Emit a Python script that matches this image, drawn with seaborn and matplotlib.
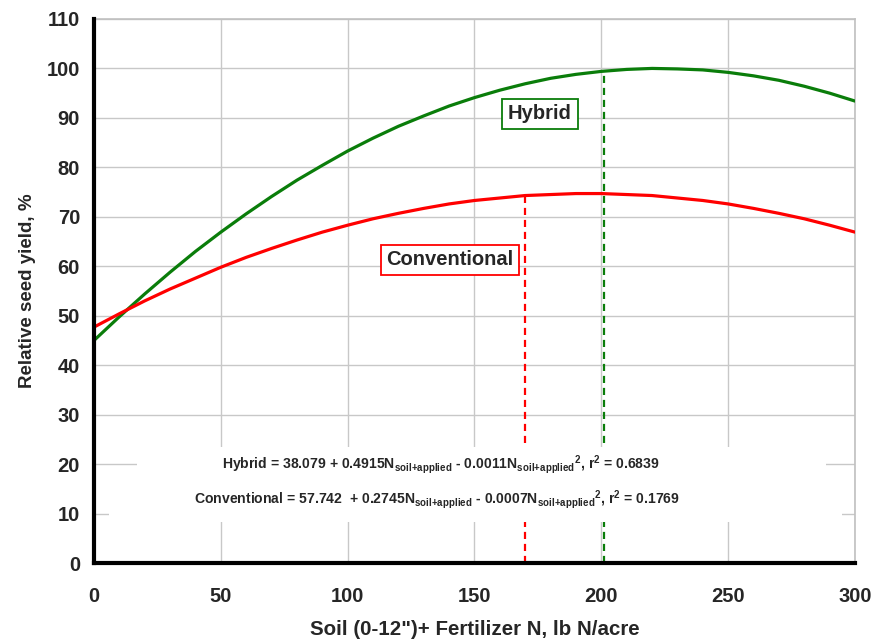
import numpy as np
import pandas as pd
import matplotlib
matplotlib.use("Agg")
import matplotlib.pyplot as plt
from matplotlib.patches import Rectangle
import seaborn as sns

# ---- data ----
n_rate = [0, 10, 20, 30, 40, 50, 60, 70, 80, 90, 100, 110, 120, 130, 140, 150,
          160, 170, 180, 190, 200, 210, 220, 230, 240, 250, 260, 270, 280, 290, 300]
hybrid_yield = [45.0, 49.8, 54.4, 58.8, 63.0, 66.9, 70.6, 74.1, 77.4, 80.4, 83.3,
                85.9, 88.3, 90.4, 92.4, 94.1, 95.6, 96.9, 98.0, 98.8, 99.4, 99.8,
                100.0, 99.9, 99.7, 99.2, 98.5, 97.6, 96.4, 95.0, 93.4]
conventional_yield = [47.7, 50.4, 53.0, 55.4, 57.6, 59.8, 61.8, 63.6, 65.3, 66.9, 68.3,
                      69.6, 70.7, 71.7, 72.6, 73.3, 73.8, 74.3, 74.5, 74.7, 74.7, 74.5,
                      74.3, 73.8, 73.3, 72.6, 71.7, 70.7, 69.6, 68.3, 66.9]
hybrid_opt_n = 201
hybrid_opt_y = 99.5
conv_opt_n = 170
conv_opt_y = 74.6
x_ticks = [0, 50, 100, 150, 200, 250, 300]
y_ticks = [0, 10, 20, 30, 40, 50, 60, 70, 80, 90, 100, 110]

df = pd.DataFrame({
    "N": n_rate * 2,
    "Yield": hybrid_yield + conventional_yield,
    "Type": ["Hybrid"] * len(n_rate) + ["Conventional"] * len(n_rate),
})

sns.set_theme(style="white")
plt.rcParams["font.family"] = ["Liberation Sans", "DejaVu Sans"]
plt.rcParams["mathtext.fontset"] = "custom"
plt.rcParams["mathtext.rm"] = "Liberation Sans"
plt.rcParams["mathtext.bf"] = "Liberation Sans:bold"

GREEN = "#0a7d0a"
RED = "#ff0000"

fig = plt.figure(figsize=(8.76, 6.43), dpi=100)
ax = fig.add_axes([0.1073, 0.1244, 0.976 - 0.1073, 0.9705 - 0.1244])

sns.lineplot(data=df, x="N", y="Yield", hue="Type",
             palette={"Hybrid": GREEN, "Conventional": RED},
             linewidth=2.3, legend=False, ax=ax, zorder=5)

# optimum dashed lines
ax.plot([conv_opt_n, conv_opt_n], [0, conv_opt_y], color=RED, lw=1.6,
        ls=(0, (3.2, 2.2)), zorder=3)
ax.plot([hybrid_opt_n, hybrid_opt_n], [0, hybrid_opt_y], color=GREEN, lw=1.6,
        ls=(0, (3.2, 2.2)), zorder=3)

ax.set_xlim(0, 300)
ax.set_ylim(0, 110)
ax.set_xticks(x_ticks)
ax.set_yticks(y_ticks)
ax.grid(True, color="#c8c8c8", lw=1.0, zorder=0)
ax.set_axisbelow(True)

for s in ["top", "right"]:
    ax.spines[s].set_color("#c0c0c0")
    ax.spines[s].set_linewidth(1.2)
for s in ["left", "bottom"]:
    ax.spines[s].set_color("black")
    ax.spines[s].set_linewidth(3)
    ax.spines[s].set_zorder(6)

ax.tick_params(axis="both", which="major", direction="out", length=6, width=2.5,
               color="black", labelsize=14.5, pad=4)
ax.tick_params(axis="x", pad=11)
for lab in ax.get_xticklabels() + ax.get_yticklabels():
    lab.set_fontweight("bold")

ax.set_xlabel("Soil (0-12\")+ Fertilizer N, lb N/acre", fontsize=14.8,
              fontweight="bold", labelpad=10)
ax.set_ylabel("Relative seed yield, %", fontsize=13.5, fontweight="bold",
              labelpad=8)

# white boxes behind equations
ax.add_patch(Rectangle((16.9, 16.3), 288.5 - 16.9, 23.4 - 16.3,
                       facecolor="white", edgecolor="none", zorder=4))
ax.add_patch(Rectangle((5.9, 8.3), 294.8 - 5.9, 16.4 - 8.3,
                       facecolor="white", edgecolor="none", zorder=4))

sub = r"$_{\mathbf{soil{+}applied}}$"
sub2 = r"$_{\mathbf{soil{+}applied}}{}^{\mathbf{2}}$"
r2 = r"r$^{\mathbf{2}}$"
ax.text(136.8, 20.0,
        "Hybrid = 38.079 + 0.4915N" + sub + " - 0.0011N" + sub2 + ", " + r2 + " = 0.6839",
        ha="center", va="center", fontsize=10.1, fontweight="bold", zorder=7)
ax.text(135.4, 12.8,
        "Conventional = 57.742  + 0.2745N" + sub + " - 0.0007N" + sub2 + ", " + r2 + " = 0.1769",
        ha="center", va="center", fontsize=10.1, fontweight="bold", zorder=7)

# series labels
ax.text(175.8, 90.8, "Hybrid", ha="center", va="center", fontsize=14.5,
        fontweight="bold", zorder=7,
        bbox=dict(facecolor="white", edgecolor=GREEN, lw=1.3, boxstyle="square,pad=0.28"))
ax.text(140.3, 61.3, "Conventional", ha="center", va="center", fontsize=14.5,
        fontweight="bold", zorder=7,
        bbox=dict(facecolor="white", edgecolor=RED, lw=1.3, boxstyle="square,pad=0.28"))

fig.savefig("out.png", dpi=100)
